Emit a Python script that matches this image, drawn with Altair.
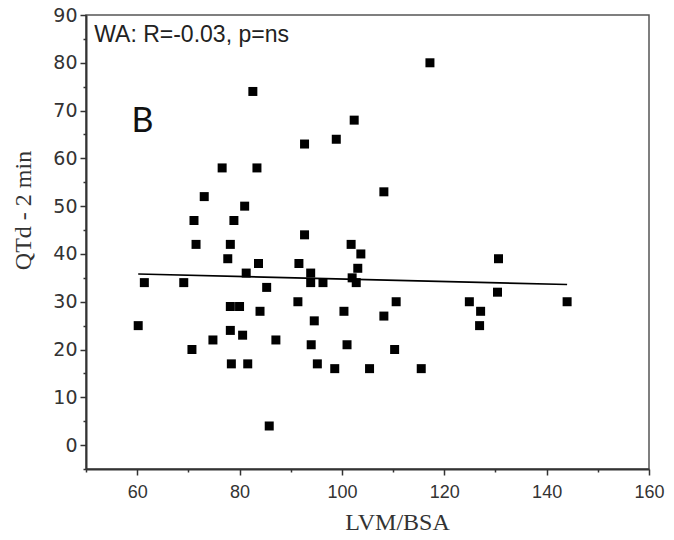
import altair as alt
import pandas as pd

lvm_bsa = [60.2, 61.4, 69.1, 70.7, 71.1, 71.5, 73.1, 74.8, 76.6, 77.7,
           78.2, 78.2, 78.2, 78.4, 78.9, 80.0, 80.6, 81.0, 81.3, 81.6,
           82.6, 83.4, 83.7, 84.0, 85.3, 85.8, 87.1, 91.4, 91.6, 92.7,
           92.7, 93.9, 93.9, 94.0, 94.6, 95.2, 96.3, 98.6, 98.9, 100.4,
           101.0, 101.8, 102.0, 102.4, 102.8, 103.1, 103.7, 105.4, 108.2, 108.2,
           110.3, 110.6, 115.5, 117.2, 124.9, 126.9, 127.1, 130.4, 130.6, 144.0]
qtd_2min = [25, 34, 34, 20, 47, 42, 52, 22, 58, 39,
            42, 29, 24, 17, 47, 29, 23, 50, 36, 17,
            74, 58, 38, 28, 33, 4, 22, 30, 38, 63,
            44, 36, 34, 21, 26, 17, 34, 16, 64, 28,
            21, 42, 35, 68, 34, 37, 40, 16, 53, 27,
            20, 30, 16, 80, 30, 25, 28, 32, 39, 30]

fit_x = [60.2, 144.0]
fit_y = [35.8, 33.6]

x_major = [60, 80, 100, 120, 140, 160]
x_minor = [50, 70, 90, 110, 130, 150]
y_major = [0, 10, 20, 30, 40, 50, 60, 70, 80, 90]
y_minor = [-5, 5, 15, 25, 35, 45, 55, 65, 75, 85]

notes_text = ["WA: R=-0.03, p=ns"]
notes_x = [51.6]
notes_y = [84.4]
panel_text = ["B"]
panel_x = [58.9]
panel_y = [65.6]

pts = pd.DataFrame({"x": lvm_bsa, "y": qtd_2min})
fit = pd.DataFrame({"x": fit_x, "y": fit_y})
notes = pd.DataFrame({"t": notes_text, "x": notes_x, "y": notes_y})
panel = pd.DataFrame({"t": panel_text, "x": panel_x, "y": panel_y})

xscale = alt.Scale(domain=[50, 160], nice=False, zero=False)
yscale = alt.Scale(domain=[-5, 90], nice=False, zero=False)

lab_font = "Liberation Sans"
ttl_font = "Liberation Serif"

x_axis = alt.Axis(values=x_major, orient="bottom", title="LVM/BSA", grid=False,
                  tickSize=6, tickWidth=1.5, tickColor="#333", domainColor="#333",
                  domainWidth=2, labelFont=lab_font, labelFontSize=18, labelColor="#333",
                  labelPadding=8, labelFlush=False, labelOverlap=False,
                  titleFont=ttl_font, titleFontSize=24, titleFontWeight="normal",
                  titleColor="#333", titleX=311, titleY=60, titleBaseline="alphabetic",
                  titleAlign="center")
y_axis = alt.Axis(values=y_major, orient="left", title="QTd - 2 min", grid=False,
                  tickSize=6, tickWidth=1.5, tickColor="#333", domainColor="#333",
                  domainWidth=2, labelFont="DejaVu Sans", labelFontSize=19, labelColor="#333",
                  labelPadding=3, labelFlush=False, labelOverlap=False,
                  titleFont=ttl_font, titleFontSize=24, titleFontWeight="normal",
                  titleColor="#333", titleX=-56, titleY=195, titleAngle=270,
                  titleBaseline="alphabetic", titleAlign="center")

x_axis_minor = alt.Axis(values=x_minor, orient="bottom", title=None, grid=False, labels=False,
                        tickSize=3, tickWidth=1.5, tickColor="#333", domain=False)
y_axis_minor = alt.Axis(values=y_minor, orient="left", title=None, grid=False, labels=False,
                        tickSize=3, tickWidth=1.5, tickColor="#333", domain=False)

points = alt.Chart(pts).mark_square(size=81, color="black", opacity=1).encode(
    x=alt.X("x:Q", scale=xscale, axis=x_axis),
    y=alt.Y("y:Q", scale=yscale, axis=y_axis),
)

line = alt.Chart(fit).mark_line(color="black", strokeWidth=1.6).encode(
    x=alt.X("x:Q", scale=xscale, axis=x_axis_minor),
    y=alt.Y("y:Q", scale=yscale, axis=y_axis_minor),
)

note = alt.Chart(notes).mark_text(align="left", baseline="alphabetic", font=lab_font,
                                  fontSize=23, color="#222").encode(
    x=alt.X("x:Q", scale=xscale, axis=None),
    y=alt.Y("y:Q", scale=yscale, axis=None),
    text="t:N",
)

plabel = alt.Chart(panel).mark_text(align="left", baseline="alphabetic", font="Lato",
                                    fontSize=34, color="#111").encode(
    x=alt.X("x:Q", scale=xscale, axis=None),
    y=alt.Y("y:Q", scale=yscale, axis=None),
    text="t:N",
)

chart = alt.layer(points, line, note, plabel).resolve_axis(
    x="independent", y="independent"
).properties(
    width=563, height=454,
    autosize=alt.AutoSizeParams(type="none"),
    padding={"left": 78, "top": 7, "right": 17, "bottom": 63},
    background="white",
).configure_view(stroke="#555", strokeWidth=1.5)

chart.save("out.html", embed_options={"renderer": "svg", "actions": False})
